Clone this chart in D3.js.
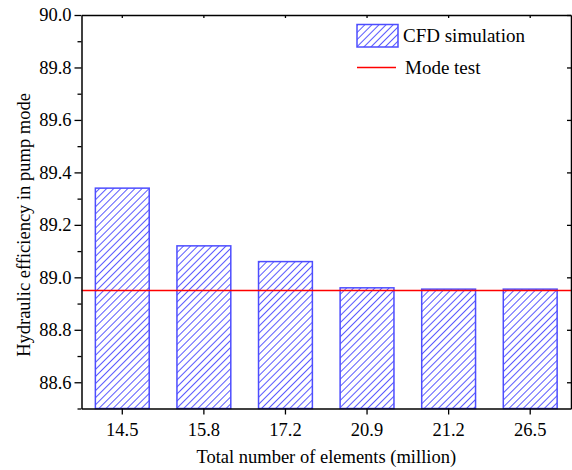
<!DOCTYPE html>
<html>
<head>
    <meta charset="utf-8">
    <script src="https://cdnjs.cloudflare.com/ajax/libs/d3/7.8.5/d3.min.js"></script>
    <style>
        body { margin: 0; background: #fff; }
        text { font-family: "Liberation Serif", "Times New Roman", serif; fill: #000; }
        .tick text { font-family: "Liberation Serif", "Times New Roman", serif !important; font-size: 18.5px !important; fill: #000 !important; }
    </style>
</head>
<body>
    <svg id="chart" width="572" height="470"></svg>
    <script>
        // data
        var elements = ["14.5", "15.8", "17.2", "20.9", "21.2", "26.5"];
        var cfdEfficiency = [89.34, 89.12, 89.06, 88.96, 88.955, 88.955];
        var modelTest = 88.95;
        var yTicks = [88.6, 88.8, 89.0, 89.2, 89.4, 89.6, 89.8, 90.0];
        var yMinorTicks = [88.5, 88.7, 88.9, 89.1, 89.3, 89.5, 89.7, 89.9];

        var serif = "Liberation Serif";
        var margin = { left: 81.5, right: 1, top: 15, bottom: 61.5 };
        var width = 572 - margin.left - margin.right;
        var height = 470 - margin.top - margin.bottom;

        var svg = d3.select("#chart");

        var pat = svg.append("defs").append("pattern")
            .attr("id", "hatch")
            .attr("patternUnits", "userSpaceOnUse")
            .attr("width", 5)
            .attr("height", 5)
            .attr("patternTransform", "rotate(45)");
        pat.append("line")
            .attr("x1", 0).attr("y1", 0)
            .attr("x2", 0).attr("y2", 5)
            .attr("stroke", "#0000ff")
            .attr("stroke-width", 1.3);

        var g = svg.append("g")
            .attr("transform", "translate(" + margin.left + "," + margin.top + ")");

        var x = d3.scaleBand()
            .domain(elements)
            .range([0, width])
            .paddingInner(0.34)
            .paddingOuter(0.17);

        var y = d3.scaleLinear()
            .domain([88.5, 90.0])
            .range([height, 0]);

        // bars
        g.selectAll("rect.bar")
            .data(cfdEfficiency)
            .enter()
            .append("rect")
            .attr("class", "bar")
            .attr("x", (d, i) => x(elements[i]))
            .attr("y", d => y(d))
            .attr("width", x.bandwidth())
            .attr("height", d => height - y(d))
            .attr("fill", "url(#hatch)")
            .attr("stroke", "#4d4dff")
            .attr("stroke-width", 1.5);

        // model test line
        g.append("line")
            .attr("x1", 0)
            .attr("x2", width)
            .attr("y1", y(modelTest))
            .attr("y2", y(modelTest))
            .attr("stroke", "#ff0000")
            .attr("stroke-width", 1.5);

        // axes
        var xAxisG = g.append("g")
            .attr("transform", "translate(0," + height + ")")
            .call(d3.axisBottom(x).tickSize(6).tickSizeOuter(0).tickPadding(8));
        var yAxisG = g.append("g")
            .call(d3.axisLeft(y).tickValues(yTicks).tickFormat(d3.format(".1f")).tickSize(7).tickSizeOuter(0).tickPadding(3));
        xAxisG.attr("font-family", serif).attr("font-size", 18.5);
        yAxisG.attr("font-family", serif).attr("font-size", 18.5);
        g.append("g")
            .call(d3.axisLeft(y).tickValues(yMinorTicks).tickFormat("").tickSize(4).tickSizeOuter(0))
            .select(".domain").remove();

        // mirrored top / right
        g.append("g")
            .call(d3.axisTop(x).tickSize(-3).tickSizeOuter(0).tickFormat(""));
        g.append("g")
            .attr("transform", "translate(" + width + ",0)")
            .call(d3.axisRight(y).tickValues(yTicks).tickSize(-4).tickSizeOuter(0).tickFormat(""));

        svg.selectAll(".domain").attr("stroke", "#000").attr("stroke-width", 1.5);
        svg.selectAll(".tick line").attr("stroke", "#000").attr("stroke-width", 1.3);

        // axis titles
        svg.append("text")
            .attr("x", margin.left + width / 2)
            .attr("y", 463)
            .attr("text-anchor", "middle")
            .style("font-size", "18.5px")
            .text("Total number of elements (million)");

        svg.append("text")
            .attr("transform", "translate(30,225) rotate(-90)")
            .attr("text-anchor", "middle")
            .style("font-size", "18.5px")
            .text("Hydraulic efficiency in pump mode");

        // legend
        var legend = svg.append("g");
        legend.append("rect")
            .attr("x", 357).attr("y", 24.5)
            .attr("width", 41).attr("height", 22.5)
            .attr("fill", "url(#hatch)")
            .attr("stroke", "#4d4dff")
            .attr("stroke-width", 1.5);
        legend.append("text")
            .attr("x", 403).attr("y", 42)
            .style("font-size", "19px")
            .text("CFD simulation");
        legend.append("line")
            .attr("x1", 357).attr("x2", 396)
            .attr("y1", 67.5).attr("y2", 67.5)
            .attr("stroke", "#ff0000")
            .attr("stroke-width", 1.5);
        legend.append("text")
            .attr("x", 405).attr("y", 74)
            .style("font-size", "19px")
            .text("Mode test");
    </script>
</body>
</html>
